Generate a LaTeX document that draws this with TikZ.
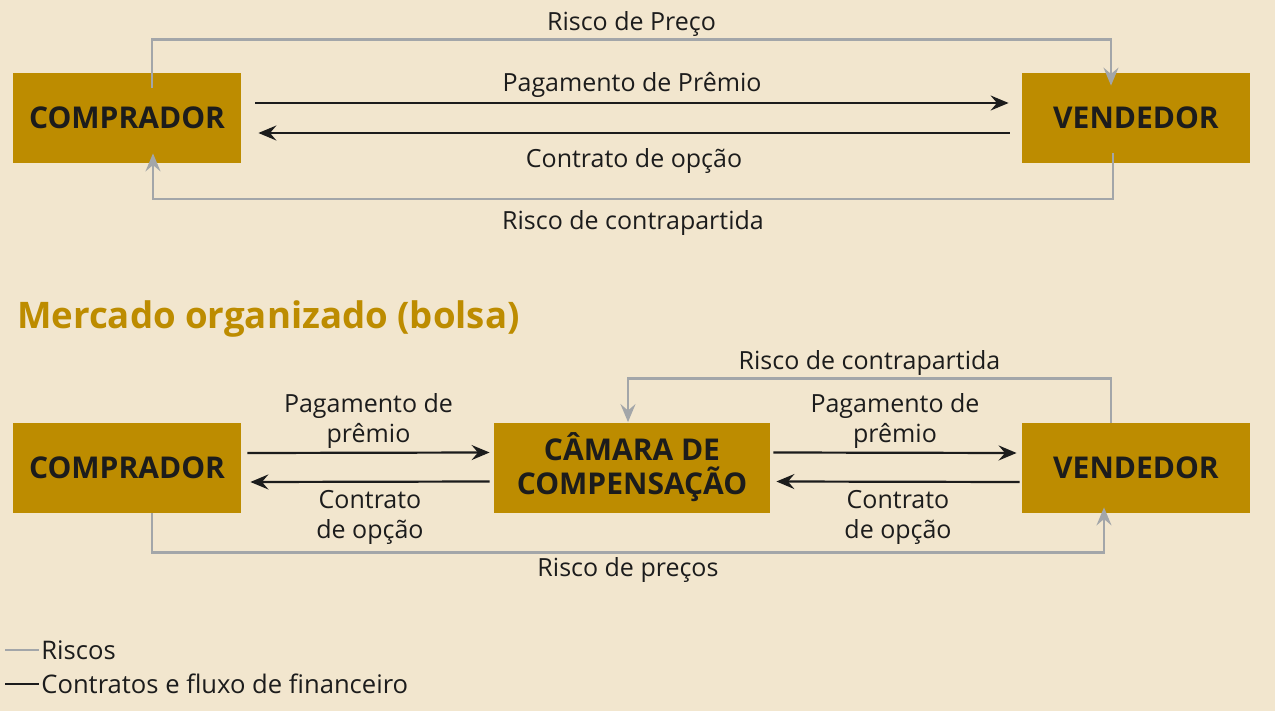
\documentclass[tikz,border=0pt]{standalone}
\usepackage{fontspec}
\setmainfont{Open Sans}
\usepackage{tikz}
\usetikzlibrary{arrows.meta,positioning}
\definecolor{bgbeige}{HTML}{F2E6CE}
\definecolor{boxgold}{HTML}{BD8C00}
\definecolor{riskgray}{HTML}{A3A6A9}
\definecolor{inkblack}{HTML}{1C1C1C}

\begin{document}
\begin{tikzpicture}[
      x=0.5pt, y=-0.5pt,
      party/.style={fill=boxgold, text=inkblack, font=\fontsize{15}{17}\selectfont\bfseries,
                    minimum width=114pt, minimum height=45pt, inner sep=0pt, align=center},
      risk/.style={-{Stealth[length=9pt,width=7.5pt,inset=3.2pt]}, draw=riskgray, line width=1.1pt},
      flow/.style={-{Stealth[length=9pt,width=7.5pt,inset=3.2pt]}, draw=inkblack, line width=1.1pt},
      lbl/.style={font=\fontsize{12.5}{15}\selectfont, text=inkblack, align=center, inner sep=1pt},
      heading/.style={font=\fontsize{18.3}{22}\selectfont\bfseries, text=boxgold},
      legend/.style={font=\fontsize{12.8}{15}\selectfont, text=inkblack, inner sep=1pt},
    ]
    \useasboundingbox[fill=bgbeige] (0,0) rectangle (1275,711);

    % Balcao: direct deal
    \node[party] (buyTop) at (127,118) {COMPRADOR};
    \node[party] (sellTop) at (1136,118) {VENDEDOR};

    \draw[flow] ([xshift=7pt,yshift=7.5pt]buyTop.east) -- node[lbl, above=1pt]
      {Pagamento de Prêmio} ([xshift=-6.5pt,yshift=7.5pt]sellTop.west);
    \draw[flow] ([xshift=-6pt,yshift=-7.5pt]sellTop.west) -- node[lbl, below=6pt]
      {Contrato de opção} ([xshift=8.5pt,yshift=-7.5pt]buyTop.east);

    \draw[risk] ([xshift=12.5pt,yshift=-7.5pt]buyTop.north) -- ++(0,-48)
      -| node[lbl, pos=0.25, above=0pt] {Risco de Preço}
      ([xshift=-12.5pt,yshift=-6.5pt]sellTop.north);
    \draw[risk] ([xshift=-11.5pt,yshift=5pt]sellTop.south) -- ++(0,46)
      -| node[lbl, pos=0.25, below=4pt] {Risco de contrapartida}
      ([xshift=13pt,yshift=5pt]buyTop.south);

    % Bolsa: via clearing house
    \node[heading, anchor=west] (title) at (10,319) {Mercado organizado (bolsa)};

    \node[party] (buyBot) at (127,468) {COMPRADOR};
    \node[party, minimum width=138pt] (clearing) at (632,467.5) {CÂMARA DE\\COMPENSAÇÃO};
    \node[party] (sellBot) at (1136,468) {VENDEDOR};

    \draw[flow] ([xshift=3pt,yshift=7.5pt]buyBot.east) -- node[lbl, above=0.5pt]
      {Pagamento de\\prêmio} ([xshift=-2pt,yshift=7.5pt]clearing.west);
    \draw[flow] ([xshift=-2pt,yshift=-7pt]clearing.west) -- node[lbl, below=3pt]
      {Contrato\\de opção} ([xshift=4.5pt,yshift=-7pt]buyBot.east);
    \draw[flow] ([xshift=1.5pt,yshift=7.5pt]clearing.east) -- node[lbl, above=0.5pt]
      {Pagamento de\\prêmio} ([xshift=-2.5pt,yshift=7.5pt]sellBot.west);
    \draw[flow] ([xshift=-1pt,yshift=-7pt]sellBot.west) -- node[lbl, below=3pt]
      {Contrato\\de opção} ([xshift=3pt,yshift=-7pt]clearing.east);

    \draw[risk] ([xshift=-12.5pt]sellBot.north) -- ++(0,-44)
      -| node[lbl, pos=0.25, above=0pt] {Risco de contrapartida}
      ([xshift=-2pt]clearing.north);
    \draw[risk] ([xshift=12.5pt]buyBot.south) -- ++(0,39)
      -| node[lbl, pos=0.25, below=1pt] {Risco de preços}
      ([xshift=-16pt,yshift=3pt]sellBot.south);

    % Legend
    \coordinate (legRiskEnd) at (5,650);
    \coordinate (legFlowEnd) at (5,684);
    \node[legend, anchor=west] (legRisk) at (39,650) {Riscos};
    \node[legend, anchor=west] (legFlow) at (39,684) {Contratos e fluxo de financeiro};
    \draw[riskgray, line width=1pt] (legRiskEnd) -- (legRisk.west);
    \draw[inkblack, line width=1pt] (legFlowEnd) -- (legFlow.west);
  \end{tikzpicture}
\end{document}
